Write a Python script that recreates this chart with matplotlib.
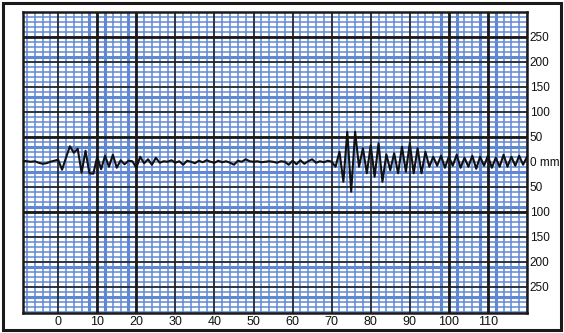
import numpy as np
import matplotlib
matplotlib.use('Agg')
import matplotlib.pyplot as plt
from matplotlib.patches import Rectangle

# trace: one sample per unit of x, starting at x = -9
trace = [
    2, 1, 0, 1, -2, -4, -3, 0, 2,                          # -9 .. -1
    4, -16, 8, 31, 18, 26, -22, 22, -23, -24,              # 0 .. 9
    10, -15, 12, -10, 14, -12, 3, -5, 2, 1,                # 10 .. 19
    -12, 10, -3, 5, -6, 8, -2, 1, 0, 3,                    # 20 .. 29
    -2, 1, -6, 2, 0, -3, 2, -1, 3, 0,                      # 30 .. 39
    -2, 2, -1, 1, -2, -6, 2, 0, 5, 1,                      # 40 .. 49
    0, 1, -1, 0, 1, 0, -2, 1, 0, -6,                       # 50 .. 59
    2, -5, 3, -4, 1, 5, -2, 1, -1, 2,                      # 60 .. 69
    0, -10, 20, -40, 60, -60, 60, -10, 27, -23,            # 70 .. 79
    33, -30, 37, -40, 15, -17, 17, -23, 30, -20,           # 80 .. 89
    37, -23, 27, -23, 20, -10, 10, -8, 12, -12,            # 90 .. 99
    10, -8, 14, -12, 8, -10, 12, -14, 10, -8,              # 100 .. 109
    12, -12, 8, -10, 14, -10, 10, -8, 12, -6, 10,          # 110 .. 120
]
x_start = -9

x_ticks = [0, 10, 20, 30, 40, 50, 60, 70, 80, 90, 100, 110]
y_ticks = [250, 200, 150, 100, 50, 0, -50, -100, -150, -200, -250]
y_labels = ['250', '200', '150', '100', '50', '0 mm', '50', '100', '150', '200', '250']

blue = '#6088d2'
plt.rcParams['font.family'] = ['Liberation Sans', 'DejaVu Sans']

fig = plt.figure(figsize=(5.64, 3.33), dpi=100)
fig.patches.append(Rectangle((3 / 564, 3 / 333), 558 / 564, 327 / 333,
                             transform=fig.transFigure, fill=False,
                             edgecolor='#1a1a1a', linewidth=2.2))

ax = fig.add_axes([23 / 564, 20 / 333, 504 / 564, 301 / 333])
ax.set_xlim(-9, 120)
ax.set_ylim(-303, 300)

# blue paper grid
thick_bx = [8, 12, 18, 98, 102, 108, 112]
for v in range(-8, 121, 2):
    ax.axvline(v, color=blue, lw=2.2 if v in thick_bx else 1.1, zorder=1)
thick_by = [210, 130, 30, -20, -90, -210, -270]
for v in range(-300, 301, 10):
    ax.axhline(v, color=blue, lw=2.2 if v in thick_by else 1.1, zorder=1)

# black grid
for v in x_ticks:
    ax.axvline(v, color='#1a1a1a', lw=2.0 if v in (10, 20, 100, 110) else 1.1, zorder=2)
for v in y_ticks:
    if v == 0:
        continue
    ax.axhline(v, color='#1a1a1a', lw=2.0 if v in (250, 50, -100) else 1.1, zorder=2)

xs = np.arange(len(trace)) + x_start
ax.plot(xs, trace, color='#111111', lw=1.5, zorder=3)

for s in ax.spines.values():
    s.set_linewidth(1.8)
    s.set_color('#1a1a1a')

ax.set_xticks(x_ticks)
ax.set_xticklabels([str(t) for t in x_ticks])
ax.yaxis.tick_right()
ax.set_yticks(y_ticks)
ax.set_yticklabels(y_labels)
ax.tick_params(length=0, labelsize=9, colors='#111111')
ax.tick_params(axis='x', pad=2)
ax.tick_params(axis='y', pad=2, labelsize=8.5)

fig.savefig('out.png', dpi=100)
